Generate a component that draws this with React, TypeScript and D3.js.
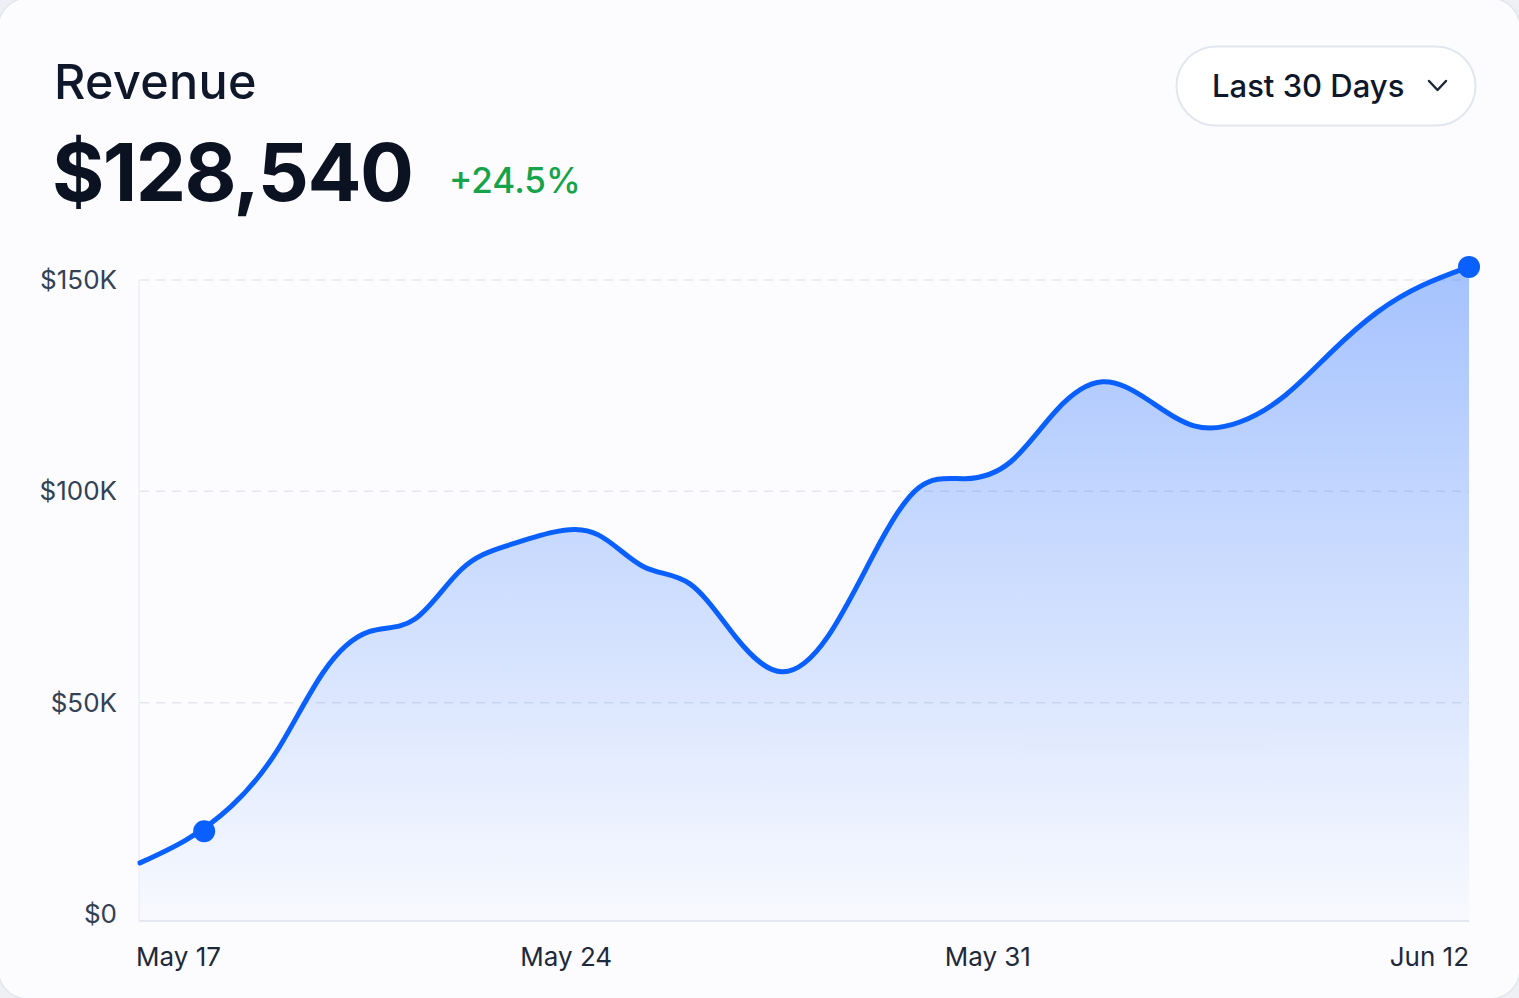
import React from "react";
import * as d3 from "d3";

// ---- data ----
const dayIndex: number[] = Array.from({ length: 30 }, (_, i) => i);
const revenue: number[] = [
  12100, 17500, 25600, 38800, 57200, 66800, 69800, 81400, 87100, 90300,
  89700, 82100, 78100, 65500, 57300, 65500, 84900, 100900, 103000, 107000,
  119200, 125900, 121600, 115500, 116400, 122800, 133000, 142400, 148800, 153100,
];
const markers: { day: number; value: number }[] = [
  { day: 1.4, value: 19600 },
  { day: 29, value: 153100 },
];
const yTicks: number[] = [0, 50000, 100000, 150000];
const yTickLabels: string[] = ["$0", "$50K", "$100K", "$150K"];
const xTickLabels: string[] = ["May 17", "May 24", "May 31", "Jun 12"];
const xTickDays: number[] = [0, 9.3, 18.5, 29];
const xTickAnchors: string[] = ["start", "middle", "middle", "end"];

const title = "Revenue";
const total = "$128,540";
const change = "+24.5%";
const rangeLabel = "Last 30 Days";

const W = 1519;
const H = 998;
const left = 140;
const right = 1469;
const top = 280;
const plotBottom = 921;

export default function App() {
  const x = d3.scaleLinear().domain([0, 29]).range([left, right]);
  const y = d3.scaleLinear().domain([0, 150000]).range([914, top]);
  const pts = dayIndex.map((d, i) => ({ d, v: revenue[i] }));
  const line = d3
    .line<{ d: number; v: number }>()
    .x((p) => x(p.d))
    .y((p) => y(p.v))
    .curve(d3.curveNatural);
  const area = d3
    .area<{ d: number; v: number }>()
    .x((p) => x(p.d))
    .y0(plotBottom)
    .y1((p) => y(p.v))
    .curve(d3.curveNatural);
  const font = "Inter, 'Noto Sans', sans-serif";
  return (
    <div style={{ position: "absolute", left: 0, top: 0 }}>
      <svg width={W} height={H} style={{ display: "block" }} fontFamily={font}>
        <defs>
          <linearGradient id="fillGrad" x1="0" y1="0" x2="0" y2="1">
            <stop offset="0%" stopColor="#0a5cff" stopOpacity={0.36} />
            <stop offset="100%" stopColor="#0a5cff" stopOpacity={0.015} />
          </linearGradient>
        </defs>
        <rect x={0} y={0} width={W} height={H} fill="#eef0f4" />
        <rect x={-2} y={-2} width={W + 3} height={H + 3} rx={30} fill="#fcfcfe" stroke="#e1e5ec" strokeWidth={1.5} />

        <text x={54} y={99} fontSize={48.5} fontWeight={500} fill="#0f172a" letterSpacing={0.3}>{title}</text>
        <text x={52} y={201} fontSize={80} fontWeight={700} fill="#0b1222" letterSpacing={-1.6}>{total}</text>
        <text x={449} y={193} fontSize={35} fontWeight={500} fill="#16a34a">{change}</text>

        <rect x={1176.5} y={46.5} width={299} height={79} rx={39.5} fill="#ffffff" stroke="#e2e6ee" strokeWidth={2} />
        <text x={1212} y={97} fontSize={31} fontWeight={500} fill="#0f172a">{rangeLabel}</text>
        <path d="M1429,81 L1437.5,90 L1446,81" fill="none" stroke="#1e293b" strokeWidth={2.5} strokeLinecap="round" strokeLinejoin="round" />

        {yTicks.map((t, i) =>
          t === 0 ? null : (
            <line key={"g" + i} x1={left} x2={right} y1={y(t)} y2={y(t)} stroke="#e3e7ef" strokeWidth={1.5} strokeDasharray="9 7" />
          )
        )}
        <line x1={left - 1} x2={left - 1} y1={top} y2={plotBottom} stroke="#eceff4" strokeWidth={1.5} />
        <line x1={left - 1} x2={right} y1={plotBottom} y2={plotBottom} stroke="#e6e9ef" strokeWidth={2} />

        <path d={area(pts) || ""} fill="url(#fillGrad)" />
        <path d={line(pts) || ""} fill="none" stroke="#0a5fff" strokeWidth={5} strokeLinecap="round" strokeLinejoin="round" />
        {markers.map((m, i) => (
          <circle key={"m" + i} cx={x(m.day)} cy={y(m.value)} r={11} fill="#0a5fff" />
        ))}

        {yTicks.map((t, i) => (
          <text key={"yl" + i} x={117} y={y(t)} dy="0.35em" textAnchor="end" fontSize={26} fill="#334155">
            {yTickLabels[i]}
          </text>
        ))}
        {xTickLabels.map((l, i) => (
          <text key={"xl" + i} x={x(xTickDays[i]) + (i === 0 ? -4 : 0)} y={966} textAnchor={xTickAnchors[i]} fontSize={26} fill="#1e293b">
            {l}
          </text>
        ))}
      </svg>
    </div>
  );
}
